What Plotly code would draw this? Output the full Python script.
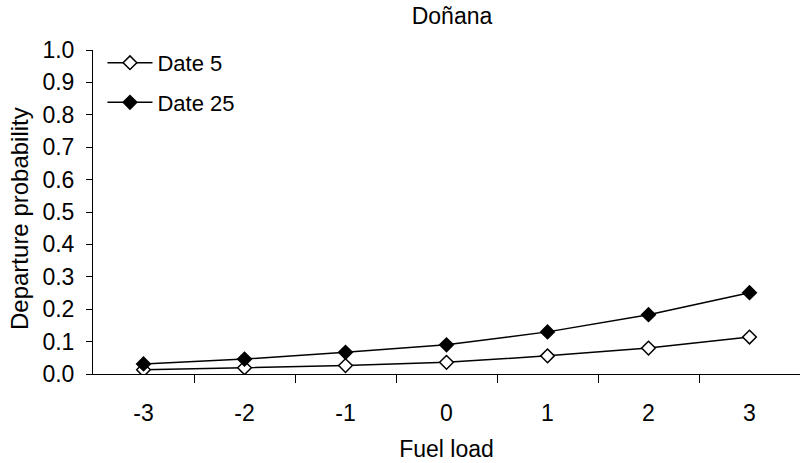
import plotly.graph_objects as go

fuel_load = [-3, -2, -1, 0, 1, 2, 3]
date5 = [0.013, 0.019, 0.026, 0.036, 0.056, 0.080, 0.114]
date25 = [0.031, 0.046, 0.067, 0.090, 0.130, 0.183, 0.251]
y_ticks = [round(i * 0.1, 1) for i in range(11)]

FONT = "Liberation Sans, Arial, sans-serif"
W, H = 800, 463
ML, MR, MT, MB = 93, 0, 50, 89
PW = W - ML - MR
PH = H - MT - MB

fig = go.Figure()
fig.add_trace(go.Scatter(
    x=fuel_load, y=date5, name="Date 5", mode="lines+markers",
    line=dict(color="black", width=1.5),
    marker=dict(symbol="diamond", size=10.5, color="white", line=dict(color="black", width=1.5)),
    legendgroup="a",
))
fig.add_trace(go.Scatter(
    x=fuel_load, y=date25, name="Date 25", mode="lines+markers",
    line=dict(color="black", width=1.5),
    marker=dict(symbol="diamond", size=10.5, color="black", line=dict(color="black", width=1.5)),
    legendgroup="b",
))

fig.update_layout(
    width=W, height=H,
    margin=dict(l=ML, r=MR, t=MT, b=MB),
    paper_bgcolor="white", plot_bgcolor="white",
    font=dict(family=FONT, size=23, color="black"),
    title=dict(text="Doñana", x=(452 - ML) / PW, xref="paper", xanchor="center",
               y=1 - 16 / H, yanchor="middle", font=dict(size=23)),
    showlegend=True,
    legend=dict(x=0.0134, y=1.025, xanchor="left", yanchor="top", bgcolor="rgba(0,0,0,0)",
                font=dict(size=22), tracegroupgap=8, traceorder="grouped", itemwidth=45),
    xaxis=dict(
        range=[-3.5, 3.5], tickvals=fuel_load, ticktext=[str(v) for v in fuel_load],
        tickfont=dict(size=23),
        ticks="", showgrid=False, zeroline=False, showline=True, linecolor="black", linewidth=1,
        minor=dict(tickvals=[-2.5, -1.5, -0.5, 0.5, 1.5, 2.5], ticks="outside", ticklen=8,
                   tickcolor="black", showgrid=False),
        ticklabelstandoff=18,
        title=dict(text="Fuel load", standoff=16, font=dict(size=23)),
    ),
    yaxis=dict(
        range=[0, 1], tickvals=y_ticks, tickformat=".1f",
        tickfont=dict(size=23),
        ticks="outside", ticklen=6, tickcolor="black",
        showgrid=False, zeroline=False, showline=True, linecolor="black", linewidth=1,
        ticklabelstandoff=7,
    ),
    annotations=[dict(
        text="Departure probability", textangle=-90, showarrow=False,
        xref="paper", yref="paper", x=(19 - ML) / PW, y=(374 - 219) / PH,
        xanchor="center", yanchor="middle", font=dict(size=24),
    )],
)

fig.write_html("out.html")
